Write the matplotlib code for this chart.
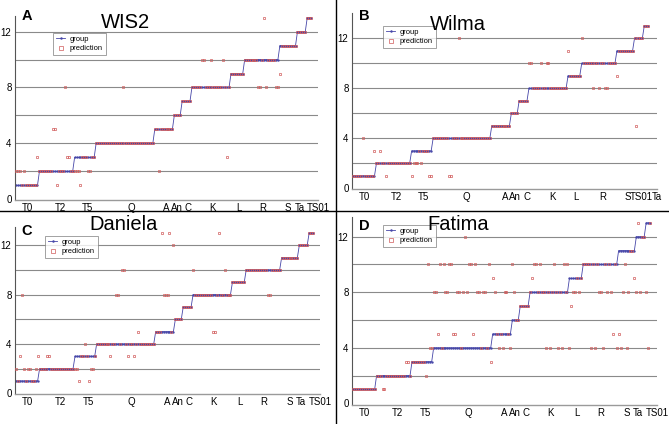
import numpy as np
import matplotlib
matplotlib.use("Agg")
import matplotlib.pyplot as plt
from matplotlib.lines import Line2D

plt.rcParams['font.family'] = ['Liberation Sans', 'DejaVu Sans']

# ---------------- data ----------------
group_levels = [1, 2, 3, 4, 5, 6, 7, 8, 9, 10, 11, 12, 13]
group_counts = [12, 18, 11, 30, 10, 4, 5, 20, 7, 18, 9, 5, 3]

labels_A = ['T0', 'T2', 'T5', 'Q', 'A', 'An', 'C', 'K', 'L', 'R', 'S', 'Ta', 'TS01']
labels_B = ['T0', 'T2', 'T5', 'Q', 'A', 'An', 'C', 'K', 'L', 'R', 'S', 'TS01', 'Ta']
ticks_A = [5.8, 22.5, 36.7, 58.8, 76.7, 82.5, 87.8, 100.5, 114, 126, 139, 145, 154.5]
ticks_B = [5.8, 22, 36, 58, 78, 83, 89, 102, 114, 127.5, 140.5, 147.3, 155.5]

pred_wis2 = (
    [2, 2, 2, 1, 2, 1, 1, 1, 1, 1, 1, 3]
    + [2, 2, 2, 2, 2, 2, 2, 5, 5, 1, 2, 2, 2, 8, 3, 3, 2, 2]
    + [2, 2, 2, 1, 3, 3, 3, 2, 2, 3, 3]
    + [4] * 14 + [8] + [4] * 15
    + [5, 5, 2, 5, 5, 5, 5, 5, 5, 5]
    + [6, 6, 6, 6]
    + [7, 7, 7, 7, 7]
    + [8, 8, 8, 8, 8, 10, 10, 8, 8, 8, 10, 8, 8, 8, 8, 8, 10, 8, 3, 8]
    + [9, 9, 9, 9, 9, 9, 9]
    + [10, 10, 10, 10, 10, 10, 10, 8, 8, 10, 13, 8, 10, 10, 10, 10, 8, 8]
    + [9, 11, 11, 11, 11, 11, 11, 11, 11]
    + [12, 12, 12, 12, 12]
    + [13, 13, 13]
)

pred_wilma = (
    [1, 1, 1, 1, 1, 4, 1, 1, 1, 1, 1, 3]
    + [2, 2, 3, 2, 2, 1, 2, 2, 2, 2, 2, 2, 2, 2, 2, 2, 2, 2]
    + [1, 2, 2, 2, 3, 2, 3, 3, 3, 1, 1]
    + [4] * 8 + [1, 1] + [4, 4, 4] + [12] + [4] * 16
    + [5] * 10
    + [6, 6, 6, 6]
    + [7, 7, 7, 7, 7]
    + [10, 10, 8, 8, 8, 8, 10, 8, 8, 10, 10, 8, 8, 8, 8, 8, 8, 8, 8, 8]
    + [11, 9, 9, 9, 9, 9, 9]
    + [12, 10, 10, 10, 10, 10, 8, 10, 10, 8, 10, 10, 8, 8, 10, 10, 10, 10]
    + [9, 11, 11, 11, 11, 11, 11, 11, 11]
    + [12, 5, 12, 12, 12]
    + [13, 13, 13]
)

pred_daniela = (
    [2, 1, 3, 8, 2, 1, 2, 2, 1, 1, 2, 3]
    + [2, 2, 2, 2, 3, 3, 2, 2, 2, 2, 2, 2, 2, 2, 2, 2, 2, 2]
    + [2, 2, 1, 3, 3, 4, 3, 1, 2, 2, 3]
    + [4, 4, 4, 4, 4, 4, 4, 3, 4, 4, 8, 8, 4, 10, 10, 4, 3, 4, 4, 3, 4, 5, 4, 4, 4, 4, 4, 4, 4, 4]
    + [5, 5, 5, 13, 8, 8, 8, 13, 5, 12]
    + [6, 6, 6, 6]
    + [7, 7, 7, 7, 7]
    + [10, 8, 8, 8, 8, 8, 8, 8, 8, 8, 5, 5, 8, 13, 8, 8, 10, 8, 8, 8]
    + [9, 9, 9, 9, 9, 9, 9]
    + [10] * 11 + [8, 8] + [10] * 5
    + [11] * 9
    + [12] * 5
    + [13, 13, 13]
)

pred_fatima = (
    [1] * 12
    + [2, 2, 2, 1, 1, 2, 2, 2, 2, 2, 2, 2, 2, 2, 2, 3, 3, 2]
    + [3, 3, 3, 3, 3, 3, 3, 2, 10, 4, 4]
    + [8, 8, 5, 10, 4, 10, 8, 8, 10, 10, 5, 5, 8, 8, 4, 8, 12, 8, 10, 10, 5, 10, 8, 8, 4, 8, 8, 4, 10, 3]
    + [9, 8, 5, 4, 5, 4, 8, 8, 5, 4]
    + [10, 8, 6, 6]
    + [7, 7, 7, 7, 7]
    + [8, 9, 10, 10, 8, 10, 8, 8, 4, 8, 4, 8, 10, 8, 4, 8, 4, 10, 8, 10]
    + [4, 7, 8, 8, 9, 8, 9]
    + [10, 10, 10, 10, 4, 10, 4, 10, 8, 8, 4, 10, 8, 10, 8, 5, 10, 4]
    + [5, 4, 8, 10, 4, 8, 11, 11, 9]
    + [8, 13, 8, 12, 12]
    + [8, 4, 13]
)

panels = [
    ('A', 'WIS2', pred_wis2, labels_A, ticks_A, (15, 15.5, 318, 200), (-0.05, 13.15), 151.8, (53, 33), (27, 16), (125, 22)),
    ('B', 'Wilma', pred_wilma, labels_B, ticks_B, (352, 13.3, 657, 189), (-0.05, 14.0), 152.5, (383, 26), (364, 16), (458, 24)),
    ('C', 'Daniela', pred_daniela, labels_A, ticks_A, (15, 226.7, 320, 394.3), (-0.08, 13.5), 152.5, (45, 236), (27, 231), (124, 225)),
    ('D', 'Fatima', pred_fatima, labels_A, ticks_A, (352, 216.7, 657, 405), (-0.12, 13.44), 152.5, (383, 225), (364, 226), (458, 225)),
]

W, H = 669, 424
fig = plt.figure(figsize=(W / 100, H / 100), dpi=100)
fig.patch.set_facecolor('white')

group_series = np.repeat(group_levels, group_counts)
xs = np.arange(len(group_series))

blue = '#4646a8'
red = '#d05a5a'

for letter, title, pred, tlabels, tpos, rect, ylim, xmax, legpos, letpos, titpos in panels:
    l, t, r, b = rect
    ax = fig.add_axes([l / W, 1 - b / H, (r - l) / W, (b - t) / H])
    ax.set_xlim(-0.5, xmax)
    ax.set_ylim(*ylim)
    for yv in [2, 4, 6, 8, 10, 12]:
        ax.axhline(yv, color='#8a8a8a', lw=0.8, zorder=0)
    ax.plot(xs, group_series, color=blue, lw=0.6, marker='.', ms=1.4,
            label='group', zorder=2, clip_on=False)
    ax.plot(xs, np.array(pred), ls='none', marker='s', ms=2.1, mfc='none',
            mec=red, mew=0.5, label='prediction', zorder=3, clip_on=False)
    ax.set_yticks([0, 4, 8, 12])
    ax.set_xticks(tpos)
    ax.set_xticklabels(tlabels)
    ax.tick_params(axis='x', length=0, pad=2, labelsize=7)
    ax.tick_params(axis='y', length=0, pad=2.5, labelsize=7)
    for s in ['top', 'right']:
        ax.spines[s].set_visible(False)
    ax.spines['left'].set_color('#555555')
    ax.spines['left'].set_linewidth(0.8)
    ax.spines['bottom'].set_color('#9a9a9a')
    ax.spines['bottom'].set_linewidth(1.0)
    ax.set_facecolor('none')
    leg = ax.legend(loc='upper left', bbox_to_anchor=(legpos[0] / W, 1 - legpos[1] / H),
                    bbox_transform=fig.transFigure, borderaxespad=0, fontsize=5.4,
                    frameon=True, fancybox=False, edgecolor='#777777',
                    handlelength=1.3, handletextpad=0.6, borderpad=0.35,
                    labelspacing=0.3, markerscale=1.1)
    leg.get_frame().set_linewidth(0.6)
    fig.text(letpos[0] / W, 1 - letpos[1] / H, letter, fontsize=10.5, fontweight='bold',
             ha='center', va='center')
    fig.text(titpos[0] / W, 1 - titpos[1] / H, title, fontsize=14.5,
             ha='center', va='center')

fig.add_artist(Line2D([336 / W, 336 / W], [0, 1], color='black', lw=1.0,
                      transform=fig.transFigure))
fig.add_artist(Line2D([0, 1], [1 - 211 / H, 1 - 211 / H], color='black', lw=1.0,
                      transform=fig.transFigure))

fig.savefig('out.png', dpi=100)
